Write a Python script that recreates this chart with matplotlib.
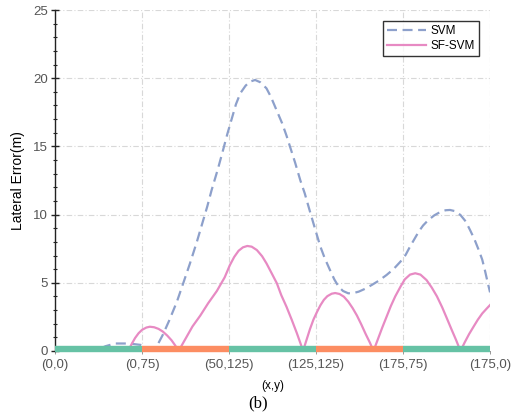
import matplotlib
matplotlib.use("Agg")
import matplotlib.pyplot as plt
from matplotlib.ticker import MultipleLocator

plt.rcParams['font.family'] = ['Liberation Sans', 'DejaVu Sans']

tick_labels = ["(0,0)", "(0,75)", "(50,125)", "(125,125)", "(175,75)", "(175,0)"]

svm_x = [0.0, 0.46, 0.58, 0.69, 0.85, 0.98, 1.05, 1.10, 1.17, 1.24, 1.31, 1.40, 1.47,
         1.55, 1.63, 1.69, 1.75, 1.80, 1.87, 1.93, 1.98, 2.03, 2.08, 2.13, 2.19, 2.24,
         2.30, 2.36, 2.43, 2.48, 2.53, 2.57, 2.61, 2.66, 2.70, 2.76, 2.82, 2.87, 2.92,
         2.97, 3.01, 3.05, 3.10, 3.16, 3.21, 3.26, 3.31, 3.37, 3.43, 3.49, 3.56, 3.64,
         3.72, 3.81, 3.89, 3.97, 4.03, 4.08, 4.13, 4.18, 4.23, 4.29, 4.36, 4.43, 4.49,
         4.54, 4.60, 4.66, 4.72, 4.77, 4.82, 4.87, 4.91, 4.94, 4.97, 5.0]
svm_y = [0.0, 0.0, 0.35, 0.55, 0.55, 0.45, 0.3, 0.1, 0.35, 1.2, 2.2, 3.6, 4.9,
         6.4, 8.0, 9.3, 10.6, 11.8, 13.3, 14.7, 15.9, 17.0, 18.1, 18.9, 19.45, 19.75,
         19.87, 19.7, 19.26, 18.65, 17.9, 17.3, 16.7, 15.8, 15.0, 13.8, 12.5, 11.56, 10.45,
         9.36, 8.5, 7.65, 6.8, 5.94, 5.25, 4.71, 4.4, 4.23, 4.25, 4.35, 4.55, 4.84,
         5.15, 5.57, 6.0, 6.55, 7.05, 7.65, 8.2, 8.75, 9.2, 9.6, 9.95, 10.2, 10.32,
         10.34, 10.25, 9.97, 9.5, 8.87, 8.2, 7.4, 6.7, 5.94, 5.1, 4.3]

sf_x = [0.0, 0.84, 0.88, 0.92, 0.96, 1.00, 1.05, 1.09, 1.14, 1.19, 1.24, 1.29, 1.34,
        1.38, 1.42, 1.50, 1.58, 1.67, 1.76, 1.86, 1.95, 2.01, 2.06, 2.11, 2.16, 2.21,
        2.26, 2.32, 2.38, 2.43, 2.49, 2.55, 2.60, 2.66, 2.72, 2.78, 2.83, 2.85, 2.89,
        2.93, 2.97, 3.01, 3.05, 3.09, 3.13, 3.18, 3.22, 3.27, 3.32, 3.37, 3.42, 3.47,
        3.52, 3.57, 3.62, 3.66, 3.71, 3.76, 3.81, 3.86, 3.91, 3.97, 4.02, 4.08, 4.14,
        4.20, 4.27, 4.33, 4.39, 4.45, 4.50, 4.56, 4.61, 4.66, 4.71, 4.76, 4.81, 4.86,
        4.91, 4.96, 5.0]
sf_y = [0.0, 0.0, 0.5, 0.95, 1.3, 1.55, 1.72, 1.78, 1.74, 1.62, 1.42, 1.13, 0.78,
        0.42, 0.0, 0.9, 1.8, 2.6, 3.5, 4.4, 5.4, 6.3, 6.9, 7.35, 7.6, 7.7,
        7.65, 7.4, 6.95, 6.43, 5.7, 4.96, 4.1, 3.25, 2.3, 1.3, 0.4, 0.0, 0.8,
        1.6, 2.3, 2.85, 3.35, 3.75, 4.02, 4.2, 4.25, 4.18, 3.98, 3.62, 3.15, 2.6,
        1.95, 1.25, 0.6, 0.0, 0.85, 1.7, 2.5, 3.3, 4.0, 4.71, 5.25, 5.6, 5.7,
        5.6, 5.2, 4.65, 4.0, 3.2, 2.45, 1.54, 0.8, 0.0, 0.65, 1.25, 1.78, 2.3,
        2.75, 3.1, 3.37]

band_colors = ["#66c2a5", "#fc8d62", "#66c2a5", "#fc8d62", "#66c2a5"]

fig = plt.figure(figsize=(5.21, 4.19), dpi=100)
ax = fig.add_axes([0.1056, 0.1623, 0.835, 0.8138])

ax.plot(svm_x, svm_y, color="#8da0cb", lw=1.6, ls=(0, (4.5, 2.5)), label="SVM", zorder=3)
ax.plot(sf_x, sf_y, color="#e78ac3", lw=1.6, label="SF-SVM", zorder=3)

for i, c in enumerate(band_colors):
    ax.plot([i, i + 1], [0.12, 0.12], color=c, lw=4.6, solid_capstyle="butt",
            zorder=4, clip_on=False)

ax.set_xlim(0, 5)
ax.set_ylim(0, 25)
ax.set_xticks(range(len(tick_labels)))
ax.set_xticklabels(tick_labels)
ax.yaxis.set_major_locator(MultipleLocator(5))
ax.yaxis.set_minor_locator(MultipleLocator(1))

ax.grid(True, color="#d8d8d8", ls=(0, (5, 2, 1, 2)), lw=0.8, zorder=0)
for s in ["top", "right"]:
    ax.spines[s].set_visible(False)
ax.spines["bottom"].set_color("#888888")
ax.spines["bottom"].set_linewidth(0.6)
ax.spines["left"].set_color("#222222")
ax.spines["left"].set_linewidth(1.0)

ax.tick_params(axis="y", which="major", direction="inout", length=6, width=1.0,
               color="#222222", labelsize=9.5, labelcolor="#555555", pad=2)
ax.tick_params(axis="y", which="minor", direction="inout", length=3.5, width=0.8,
               color="#222222")
ax.tick_params(axis="x", which="major", direction="out", length=2, width=0.6,
               color="#888888", labelsize=9.5, labelcolor="#555555", pad=4)

ax.set_ylabel("Lateral Error(m)", fontsize=10, color="black", labelpad=6)
ax.set_xlabel("(x,y)", fontsize=8.5, color="black", labelpad=6)

leg = ax.legend(loc="upper right", fontsize=8.5, frameon=True, fancybox=False,
                edgecolor="black", handlelength=3.3, handletextpad=0.4,
                borderpad=0.35, labelspacing=0.25, borderaxespad=0.95)
leg.get_frame().set_linewidth(1.0)

fig.text(258 / 521, 1 - 403 / 419, "(b)", family="Liberation Serif", fontsize=12,
         ha="center", va="center")

fig.savefig("out.png", dpi=100)
